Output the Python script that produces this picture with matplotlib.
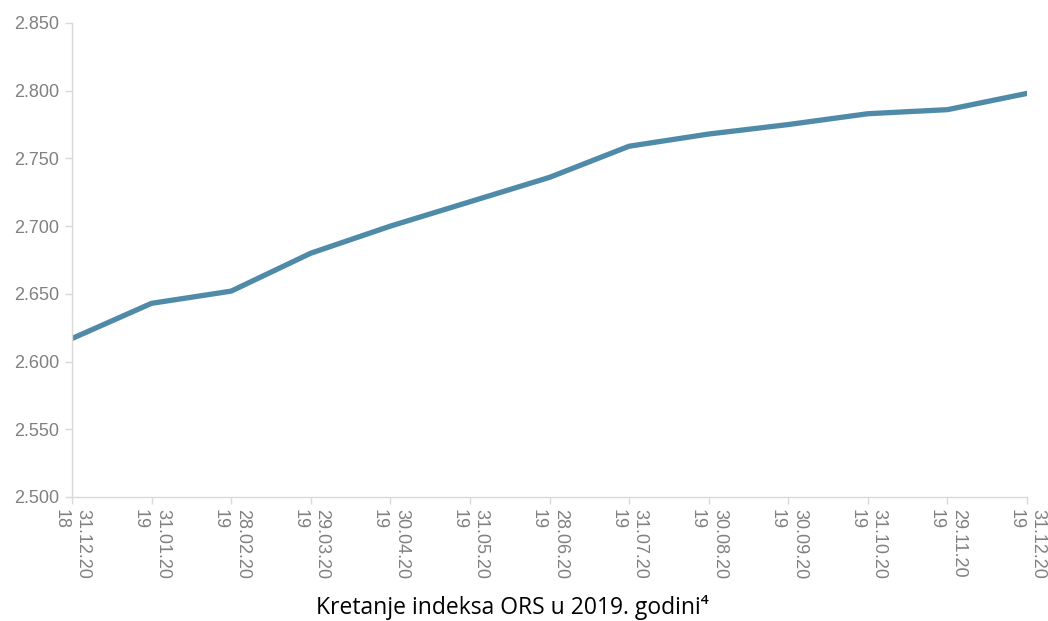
import matplotlib; matplotlib.use("Agg")
import matplotlib.pyplot as plt
from matplotlib.ticker import FuncFormatter

# datumi (kategorije) i vrijednosti indeksa ORS
dates = ["31.12.20\n18", "31.01.20\n19", "28.02.20\n19", "29.03.20\n19", "30.04.20\n19",
         "31.05.20\n19", "28.06.20\n19", "31.07.20\n19", "30.08.20\n19", "30.09.20\n19",
         "31.10.20\n19", "29.11.20\n19", "31.12.20\n19"]
ors = [2617, 2643, 2652, 2680, 2700, 2718, 2736, 2759, 2768, 2775, 2783, 2786, 2798]
yticks = [2500, 2550, 2600, 2650, 2700, 2750, 2800, 2850]

C_LINE = "#4F8BA8"; C_TXT = "#808080"; C_AX = "#D9D9D9"

plt.rcParams["font.family"] = ["Liberation Sans", "DejaVu Sans"]
fig = plt.figure(figsize=(10.48, 6.21), dpi=100)
ax = fig.add_axes([0.0687, 0.1997, 0.9113, 0.7633])

x = list(range(len(dates)))
ax.plot(x, ors, color=C_LINE, lw=3.8, solid_capstyle="round", solid_joinstyle="round")

ax.set_xlim(0, len(dates) - 1)
ax.set_ylim(2500, 2850)
ax.set_yticks(yticks)
ax.yaxis.set_major_formatter(FuncFormatter(lambda v, p: f"{int(v):,}".replace(",", ".")))
ax.set_xticks(x)
ax.set_xticklabels(dates, rotation=-90, ha="center", va="top", multialignment="left",
                   linespacing=1.4)

for s in ("top", "right"):
    ax.spines[s].set_visible(False)
for s in ("left", "bottom"):
    ax.spines[s].set_color(C_AX); ax.spines[s].set_linewidth(1)
ax.tick_params(colors=C_AX, labelcolor=C_TXT, labelsize=13, length=5, width=1, pad=4)

fig.text(0.4885, 0.022, "Kretanje indeksa ORS u 2019. godini\u2074", ha="center", va="center",
         fontsize=16.5, color="black", family=["Open Sans", "DejaVu Sans"])

fig.savefig("out.png", dpi=100)
